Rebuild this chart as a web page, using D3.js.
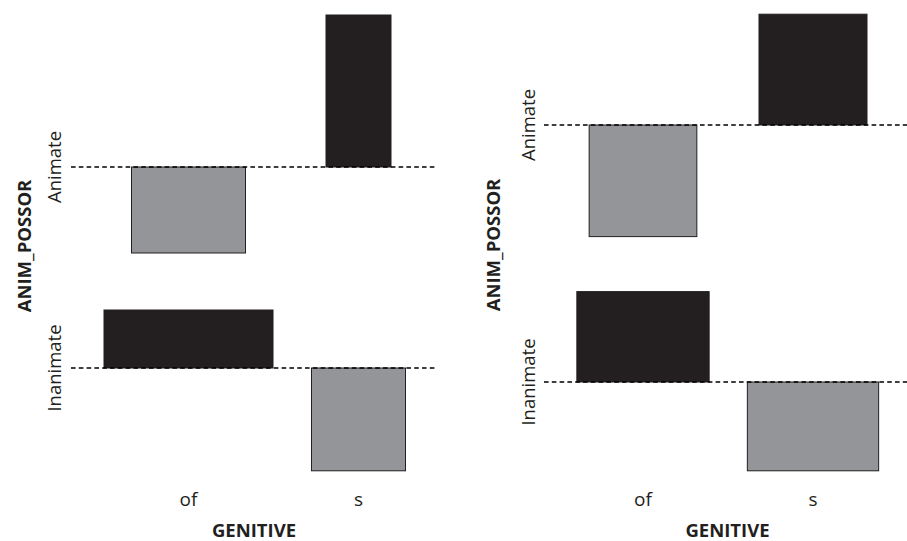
<!DOCTYPE html>
<html>
<head>
<meta charset="utf-8">
<script src="https://cdn.jsdelivr.net/npm/d3@7/dist/d3.min.js"></script>
<style>
  html, body { margin: 0; padding: 0; background: #fff; }
  svg { display: block; }
  text { font-family: "Open Sans", "Noto Sans", sans-serif; fill: #231f20; }
</style>
</head>
<body>
<svg id="chart" width="907" height="541"></svg>
<script>
// ---- data ----
const genitive = ["of", "s"];
const possor = ["Animate", "Inanimate"];
const xTitle = "GENITIVE";
const yTitle = "ANIM_POSSOR";

// Pearson residuals (rows = possor, cols = genitive)
const residualsLeft  = [[-2.15, 3.80], [1.45, -2.57]];
const residualsRight = [[-2.79, 2.77], [2.26, -2.22]];
// square roots of expected frequencies (bar widths)
const sqrtExpLeft  = [[11.4, 6.5], [16.9, 9.4]];
const sqrtExpRight = [[10.77, 10.8], [13.23, 13.13]];

// ---- layout ----
const svg = d3.select("#chart");
const panels = [
  { res: residualsLeft,  w: sqrtExpLeft,
    plotX: [71, 437], cols: [188.5, 358.5], rows: [167, 368],
    rowLabX: 61, titleX: 31, titleY: 246 },
  { res: residualsRight, w: sqrtExpRight,
    plotX: [544, 911], cols: [643, 813], rows: [125, 382],
    rowLabX: 535, titleX: 500, titleY: 245 }
];

const BLACK = "#231f20", GREY = "#939598";

panels.forEach(p => {
  const g = svg.append("g");
  const x = d3.scalePoint().domain(genitive).range(p.cols);
  const y = d3.scalePoint().domain(possor).range(p.rows);
  const hScale = d3.scaleLinear().domain([0, 1]).range([0, 40]);   // residual -> px
  const wScale = d3.scaleLinear().domain([0, 1]).range([0, 10]);   // sqrt(E) -> px

  const cells = [];
  possor.forEach((r, i) => genitive.forEach((c, j) => {
    cells.push({ r, c, res: p.res[i][j], w: p.w[i][j] });
  }));

  g.selectAll("rect.bar").data(cells).join("rect")
    .attr("class", "bar")
    .attr("x", d => x(d.c) - wScale(d.w) / 2)
    .attr("width", d => wScale(d.w))
    .attr("y", d => d.res > 0 ? y(d.r) - hScale(d.res) : y(d.r))
    .attr("height", d => hScale(Math.abs(d.res)))
    .attr("fill", d => d.res > 0 ? BLACK : GREY)
    .attr("stroke", BLACK)
    .attr("stroke-width", 1);

  // dashed baselines
  g.selectAll("line.base").data(possor).join("line")
    .attr("class", "base")
    .attr("x1", p.plotX[0]).attr("x2", p.plotX[1])
    .attr("y1", d => y(d)).attr("y2", d => y(d))
    .attr("stroke", "#000").attr("stroke-width", 1.4)
    .attr("stroke-dasharray", "4.6,3.2");

  // column labels
  g.selectAll("text.col").data(genitive).join("text")
    .attr("class", "col")
    .attr("x", d => x(d)).attr("y", 506)
    .attr("text-anchor", "middle")
    .attr("font-size", 19)
    .text(d => d);

  // row labels (rotated)
  g.selectAll("text.row").data(possor).join("text")
    .attr("class", "row")
    .attr("transform", d => `translate(${p.rowLabX},${y(d)}) rotate(-90)`)
    .attr("text-anchor", "middle")
    .attr("font-size", 18.5)
    .text(d => d);

  // titles
  g.append("text")
    .attr("x", (p.plotX[0] + p.plotX[1]) / 2).attr("y", 537)
    .attr("text-anchor", "middle")
    .attr("font-size", 18.5).attr("font-weight", "bold")
    .text(xTitle);

  g.append("text")
    .attr("transform", `translate(${p.titleX},${p.titleY}) rotate(-90)`)
    .attr("text-anchor", "middle")
    .attr("font-size", 18.5).attr("font-weight", "bold")
    .text(yTitle);
});
</script>
</body>
</html>
